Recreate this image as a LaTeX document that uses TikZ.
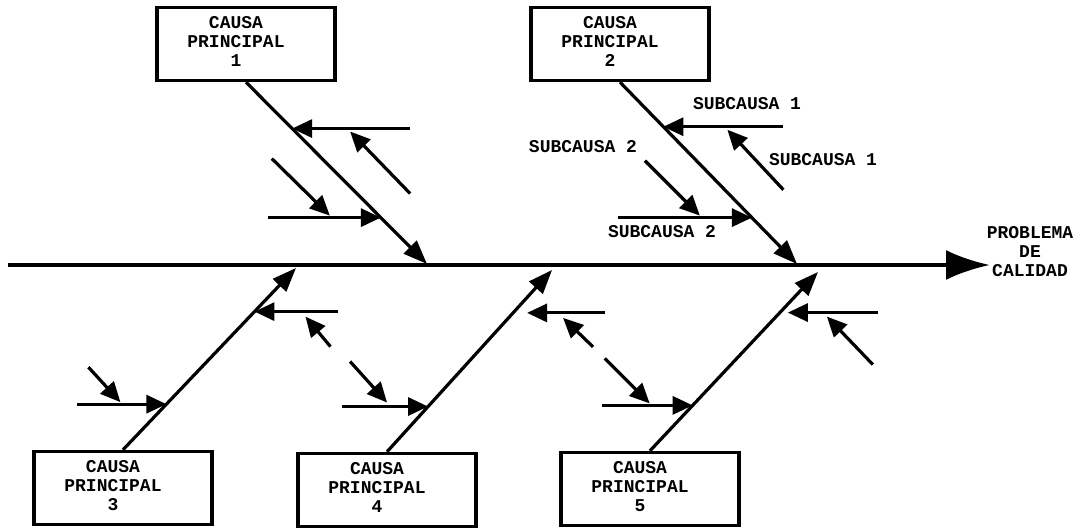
\documentclass[tikz,border=0pt]{standalone}
\usepackage{fontspec}
\setmonofont{Liberation Mono}
\usetikzlibrary{%
  arrows.meta,%
  calc%
}
\newcommand{\causa}[1]{\begin{tabular}{@{}c@{\hspace{10pt}}}CAUSA\\PRINCIPAL\\#1\end{tabular}}

\begin{document}
\begin{tikzpicture}[x=0.5pt,y=-0.5pt,
    every node/.style={font=\ttfamily\bfseries\fontsize{9}{9.5}\selectfont,inner sep=0pt},
    causebox/.style={draw,line width=1.7pt,minimum width=89pt,minimum height=36.5pt},
    spine/.style={line width=2.2pt,-{Latex[length=22pt,width=15pt]}},
    bone/.style={line width=1.6pt,-{Triangle[length=12pt,width=9pt]}},
    sub/.style={line width=1.6pt,-{Triangle[length=10pt,width=9pt]}}]
    \path[use as bounding box,fill=white] (0,0) rectangle (1081,528);
    % causas principales
    \node[causebox] (c1) at (246,44) {\causa{1}};
    \node[causebox] (c2) at (620,44) {\causa{2}};
    \node[causebox] (c3) at (123,488) {\causa{3}};
    \node[causebox] (c4) at (387,490) {\causa{4}};
    \node[causebox] (c5) at (650,489) {\causa{5}};
    \node[align=center] (efecto) at (1030,252) {PROBLEMA\\DE\\CALIDAD};
    % espina central
    \coordinate (s0) at (8,265);
    \coordinate (s1) at (990,265);
    \draw[spine] (s0) -- (s1);
    \coordinate (j1) at (427,264);
    \coordinate (j2) at (797,264);
    \coordinate (j3) at (296,268);
    \coordinate (j4) at (552,270);
    \coordinate (j5) at (818,272);
    \foreach \c/\j in {c1.south/j1,c2.south/j2,c3.north/j3,c4.north/j4,c5.north/j5}
      \draw[bone] (\c) -- (\j);
    % puntos de las subcausas sobre cada espina
    \coordinate (b1a) at ($(c1.south)!.255!(j1)$);
    \coordinate (b1b) at ($(c1.south)!.745!(j1)$);
    \coordinate (b2a) at ($(c2.south)!.245!(j2)$);
    \coordinate (b2b) at ($(c2.south)!.745!(j2)$);
    \coordinate (b3a) at ($(c3.north)!.76!(j3)$);
    \coordinate (b3b) at ($(c3.north)!.251!(j3)$);
    \coordinate (b4a) at ($(c4.north)!.764!(j4)$);
    \coordinate (b4b) at ($(c4.north)!.249!(j4)$);
    \coordinate (b5a) at ($(c5.north)!.773!(j5)$);
    \coordinate (b5b) at ($(c5.north)!.254!(j5)$);
    \foreach \p/\h/\e/\d/\t in {%
        b1a/{118,0}/{0,0}/{118,65}/{58,3},
        b1b/{-113,0}/{0,0}/{-109,-59}/{-51,-2},
        b2a/{120,0}/{0,0}/{120,63}/{64,3},
        b2b/{-134,0}/{0,0}/{-107,-57}/{-52,-2},
        b3a/{84,0}/{0,0}/{76,35}/{51,5},
        b3b/{-89,0}/{0,0}/{-78,-37}/{-46,-2},
        b4a/{92,0}/{14,0}/{80,34}/{50,5},
        b4b/{-86,0}/{0,0}/{-78,-45}/{-41,-4},
        b5a/{98,0}/{8,0}/{93,52}/{47,4},
        b5b/{-91,0}/{0,0}/{-88,-47}/{-43,-2}}
    {
      \draw[sub] ($(\p)+(\h)$) -- ($(\p)+(\e)$);
      \draw[sub] ($(\p)+(\d)$) -- ($(\p)+(\t)$);
    }
    % subcausas
    \node (sub1a) at (747,104) {SUBCAUSA 1};
    \node (sub2a) at (583,147) {SUBCAUSA 2};
    \node (sub1b) at (823,160) {SUBCAUSA 1};
    \node (sub2b) at (662,232) {SUBCAUSA 2};
\end{tikzpicture}
\end{document}
